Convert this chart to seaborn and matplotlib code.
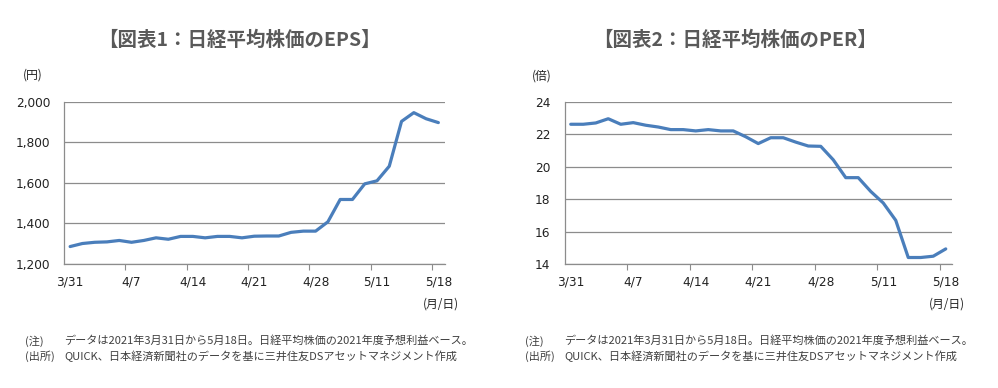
import numpy as np
import pandas as pd
import matplotlib
matplotlib.use('Agg')
import matplotlib.pyplot as plt
import seaborn as sns
from matplotlib.ticker import FuncFormatter

# Data (trading days 2021/3/31 - 5/18)
dates = ['3/31', '4/1', '4/2', '4/5', '4/6', '4/7', '4/8', '4/9', '4/12', '4/13',
         '4/14', '4/15', '4/16', '4/19', '4/20', '4/21', '4/22', '4/23', '4/26', '4/27',
         '4/28', '4/30', '5/6', '5/7', '5/10', '5/11', '5/12', '5/13', '5/14', '5/17', '5/18']
eps = [1286, 1301, 1307, 1309, 1316, 1307, 1316, 1329, 1322, 1336,
       1336, 1329, 1336, 1336, 1329, 1337, 1338, 1338, 1356, 1362,
       1362, 1408, 1518, 1518, 1595, 1610, 1682, 1903, 1946, 1916, 1897]
per = [22.61, 22.61, 22.69, 22.95, 22.61, 22.71, 22.55, 22.44, 22.28, 22.28,
       22.20, 22.28, 22.20, 22.20, 21.84, 21.42, 21.78, 21.78, 21.51, 21.27,
       21.25, 20.42, 19.32, 19.32, 18.47, 17.76, 16.69, 14.40, 14.40, 14.48, 14.93]

titles = ['【図表1：日経平均株価のEPS】', '【図表2：日経平均株価のPER】']
units = ['(円)', '(倍)']
note_label = ['(注)', '(出所)']
note_text = ['データは2021年3月31日から5月18日。日経平均株価の2021年度予想利益ベース。',
             'QUICK、日本経済新聞社のデータを基に三井住友DSアセットマネジメント作成']

df = pd.DataFrame({'idx': np.arange(len(dates)), 'date': dates, 'eps': eps, 'per': per})

sns.set_theme(style='white')
plt.rcParams['font.family'] = ['DejaVu Sans', 'Noto Sans CJK JP']
jp = ['Noto Sans CJK JP', 'DejaVu Sans']

line_color = '#4a7ebb'
grid_color = '#8c8c8c'
text_color = '#404040'

fig = plt.figure(figsize=(9.98, 3.88), dpi=100)
W, H = 998, 388

def px_axes(x0, x1, y0, y1):
    return fig.add_axes([x0 / W, 1 - y1 / H, (x1 - x0) / W, (y1 - y0) / H])

ax1 = px_axes(64, 444.5, 101.7, 264)
ax2 = px_axes(564.5, 952, 101.7, 264)

setups = [
    (ax1, 'eps', (1200, 2000), np.arange(1200, 2001, 200), lambda v, p: f'{int(v):,}'),
    (ax2, 'per', (14, 24), np.arange(14, 25, 2), lambda v, p: f'{int(v)}'),
]

for ax, col, ylim, yticks, fmt in setups:
    sns.lineplot(data=df, x='idx', y=col, ax=ax, color=line_color, linewidth=2.3)
    ax.set_xlim(-0.5, len(dates) - 0.5)
    ax.set_ylim(*ylim)
    ax.set_yticks(yticks)
    ax.yaxis.set_major_formatter(FuncFormatter(fmt))
    ax.set_xticks(df['idx'][::5])
    ax.set_xticklabels(df['date'][::5])
    ax.set_xticks(np.arange(4.5, len(dates) - 1, 5), minor=True)
    ax.tick_params(axis='x', which='major', length=0, pad=8, labelsize=8.7, colors='#222222')
    ax.tick_params(axis='x', which='minor', length=4, width=0.8, color=grid_color, bottom=True)
    ax.tick_params(axis='y', length=0, pad=10, labelsize=8.7, colors='#222222')
    ax.grid(axis='y', color=grid_color, linewidth=0.9)
    ax.grid(axis='x', visible=False)
    ax.set_axisbelow(True)
    ax.set_xlabel('')
    ax.set_ylabel('')
    for s in ['top', 'right']:
        ax.spines[s].set_visible(False)
    for s in ['left', 'bottom']:
        ax.spines[s].set_color(grid_color)
        ax.spines[s].set_linewidth(0.9)

# titles, units, axis captions
fig.text(239 / W, 1 - 40 / H, titles[0], ha='center', va='center', fontsize=14,
         fontweight='bold', color='#595959', family=jp)
fig.text(735 / W, 1 - 40 / H, titles[1], ha='center', va='center', fontsize=14,
         fontweight='bold', color='#595959', family=jp)
fig.text(33 / W, 1 - 75 / H, units[0], ha='center', va='center', fontsize=8.5, color='#222222', family=jp)
fig.text(542 / W, 1 - 76 / H, units[1], ha='center', va='center', fontsize=8.5, color='#222222', family=jp)
fig.text(441 / W, 1 - 304 / H, '(月/日)', ha='center', va='center', fontsize=8.5, color='#222222', family=jp)
fig.text(947 / W, 1 - 304 / H, '(月/日)', ha='center', va='center', fontsize=8.5, color='#222222', family=jp)

# footnotes
for x0 in [25, 525]:
    for i, (lab, txt) in enumerate(zip(note_label, note_text)):
        y = 1 - (341 + i * 15) / H
        fig.text(x0 / W, y, lab, ha='left', va='center', fontsize=8, color=text_color, family=jp)
        fig.text((x0 + 39) / W, y, txt, ha='left', va='center', fontsize=8, color=text_color, family=jp)

fig.savefig('out.png', dpi=100)
plt.close(fig)
